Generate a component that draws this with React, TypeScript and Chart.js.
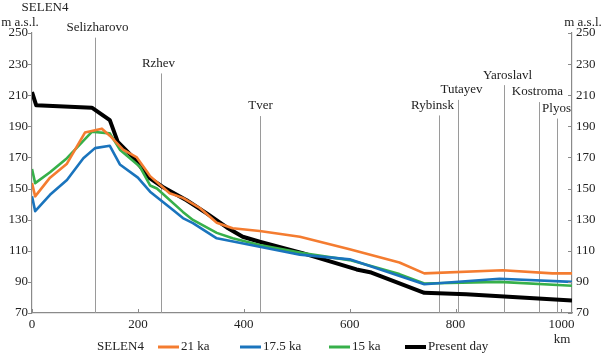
import React, { useEffect, useRef } from "react";
import { Chart, registerables } from "chart.js";
Chart.register(...registerables);

// ---- data ----
const kmTicks = [0, 200, 400, 600, 800, 1000];
const elevTicks = [70, 90, 110, 130, 150, 170, 190, 210, 230, 250];

const km21 = [0, 6, 34, 66, 100, 132, 147, 172, 198, 217, 223, 260, 285, 317, 349, 379, 430, 506, 600, 694, 741, 889, 983, 1020];
const elev21 = [153.5, 145, 157, 166, 186, 188.5, 184, 175, 170, 161, 158, 147, 144, 137.5, 128, 124.5, 122.7, 119, 111, 102.5, 95.5, 97.5, 95.5, 95.5];

const km175 = [0, 6, 34, 66, 97, 119, 147, 166, 200, 223, 267, 285, 304, 349, 430, 506, 600, 741, 883, 1020];
const elev175 = [145, 135.5, 146, 155.5, 169.5, 176, 177.5, 165.5, 157, 148, 136, 131, 127.8, 118, 112.6, 107.5, 104.5, 88.5, 92, 90];

const km15 = [0, 6, 34, 66, 113, 147, 166, 204, 223, 236, 285, 304, 349, 379, 430, 511, 600, 694, 741, 883, 1020];
const elev15 = [162.5, 153.5, 160.5, 169.5, 186.5, 185.5, 175, 164, 152, 150, 135, 129.8, 121.5, 118, 113.7, 108.5, 104, 95, 89, 90, 87.5];

const kmNow = [0, 8, 113, 147, 162, 191, 223, 247, 292, 330, 368, 398, 430, 511, 613, 641, 741, 820, 900, 1020];
const elevNow = [212, 203.5, 202, 194, 180, 170, 156.5, 151, 142.5, 134, 125, 119, 115.8, 108.5, 98, 96, 83, 82, 80.5, 78];

const seriesNames = ["21 ka", "17.5 ka", "15 ka", "Present day"];

const towns = ["Selizharovo", "Rzhev", "Tver", "Rybinsk", "Tutayev", "Yaroslavl", "Kostroma", "Plyos"];
const townKm = [119, 243, 430, 768, 804, 891, 957, 992];
const townTop = [247, 224, 196.6, 197, 207, 216.5, 205.6, 195];

// ---- styling (not data) ----
const colors = ["#f47c30", "#1a74bd", "#37b04a", "#000000"];
const widths = [2.6, 2.6, 2.6, 4];
const townLabelDx = [2, -3, 0, -7, 3, 3, -2, -1];
const FONT = "'Liberation Serif', 'Times New Roman', serif";

const pts = (xs: number[], ys: number[]) => xs.map((x, i) => ({ x, y: ys[i] }));

const decorPlugin = {
  id: "decor",
  beforeDatasetsDraw(chart: any) {
    const { ctx, scales } = chart;
    const x = scales.x;
    const y = scales.y;
    ctx.save();
    ctx.strokeStyle = "#9a9a9a";
    ctx.lineWidth = 1;
    ctx.fillStyle = "#222";
    ctx.font = `13px ${FONT}`;
    ctx.textAlign = "center";
    ctx.textBaseline = "middle";
    towns.forEach((t, i) => {
      const px = Math.round(x.getPixelForValue(townKm[i])) + 0.5;
      const top = y.getPixelForValue(townTop[i]);
      ctx.beginPath();
      ctx.moveTo(px, top);
      ctx.lineTo(px, y.bottom);
      ctx.stroke();
      ctx.fillText(t, px + townLabelDx[i], top - 10);
    });
    ctx.restore();
  },
  afterDraw(chart: any) {
    const { ctx, scales } = chart;
    const x = scales.x;
    const y = scales.y;
    const y2 = scales.y2;
    ctx.save();
    // tick marks
    ctx.strokeStyle = "#8a8a8a";
    ctx.lineWidth = 1;
    elevTicks.forEach((v) => {
      const py = Math.round(y.getPixelForValue(v)) + 0.5;
      ctx.beginPath();
      ctx.moveTo(y.right - 4, py);
      ctx.lineTo(y.right, py);
      ctx.stroke();
      ctx.beginPath();
      ctx.moveTo(y2.left - 4, py);
      ctx.lineTo(y2.left, py);
      ctx.stroke();
    });
    kmTicks.forEach((v) => {
      const px = Math.round(x.getPixelForValue(v)) + 0.5;
      ctx.beginPath();
      ctx.moveTo(px, x.top - 4);
      ctx.lineTo(px, x.top);
      ctx.stroke();
    });
    // axis titles
    ctx.fillStyle = "#222";
    ctx.font = `13px ${FONT}`;
    ctx.textBaseline = "middle";
    ctx.textAlign = "center";
    ctx.fillText("SELEN4", 45, 8);
    ctx.fillText("m a.s.l.", 20, 23);
    ctx.fillText("m a.s.l.", 583, 23);
    ctx.fillText("km", 562, 340);
    // legend
    const ly = 347;
    ctx.textAlign = "left";
    ctx.fillText("SELEN4", 97, ly);
    const legendX = [158, 240, 329, 405];
    seriesNames.forEach((n, i) => {
      const lx = legendX[i];
      ctx.strokeStyle = colors[i];
      ctx.lineWidth = i === 3 ? 4 : 3;
      ctx.beginPath();
      ctx.moveTo(lx, ly);
      ctx.lineTo(lx + 21, ly);
      ctx.stroke();
      ctx.fillText(n, lx + 23, ly);
    });
    ctx.restore();
  },
};

export default function App() {
  const ref = useRef<HTMLCanvasElement | null>(null);
  useEffect(() => {
    if (!ref.current) return;
    const all = [pts(km21, elev21), pts(km175, elev175), pts(km15, elev15), pts(kmNow, elevNow)];
    const tickFont = { family: FONT, size: 13 };
    const plain = (v: any) => String(v);
    const chart = new Chart(ref.current, {
      type: "line",
      data: {
        datasets: all.map((d, i) => ({
          label: seriesNames[i],
          data: d,
          borderColor: colors[i],
          backgroundColor: colors[i],
          borderWidth: widths[i],
          pointRadius: 0,
          tension: 0,
          borderJoinStyle: "round" as const,
        })),
      },
      options: {
        responsive: false,
        animation: false,
        layout: { padding: { top: 33, left: 0, right: 0, bottom: 0 } },
        plugins: { legend: { display: false }, tooltip: { enabled: false } },
        scales: {
          x: {
            type: "linear",
            min: 0,
            max: 1020,
            afterFit: (s: any) => { s.height = 42; },
            afterBuildTicks: (s: any) => { s.ticks = kmTicks.map((v) => ({ value: v })); },
            grid: { display: false, drawTicks: false },
            border: { display: true, color: "#8a8a8a", width: 1.2 },
            ticks: { color: "#222", font: tickFont, padding: 4, maxRotation: 0, autoSkip: false, callback: plain },
          },
          y: {
            type: "linear",
            position: "left",
            min: 70,
            max: 250,
            afterFit: (s: any) => { s.width = 32; },
            afterBuildTicks: (s: any) => { s.ticks = elevTicks.map((v) => ({ value: v })); },
            grid: { display: false, drawTicks: false },
            border: { display: true, color: "#8a8a8a", width: 1.2 },
            ticks: { color: "#222", font: tickFont, padding: 4, autoSkip: false, callback: plain },
          },
          y2: {
            type: "linear",
            position: "right",
            display: true,
            min: 70,
            max: 250,
            afterFit: (s: any) => { s.width = 32; },
            afterBuildTicks: (s: any) => { s.ticks = elevTicks.map((v) => ({ value: v })); },
            grid: { display: false, drawTicks: false },
            border: { display: true, color: "#8a8a8a", width: 1.2 },
            ticks: { color: "#222", font: tickFont, padding: 4, autoSkip: false, callback: plain },
          },
        },
      },
      plugins: [decorPlugin],
    });
    return () => chart.destroy();
  }, []);
  return (
    <div style={{ position: "absolute", left: 0, top: 0, width: 604, height: 355, background: "#fff" }}>
      <canvas ref={ref} width={604} height={355} style={{ display: "block" }} />
    </div>
  );
}
